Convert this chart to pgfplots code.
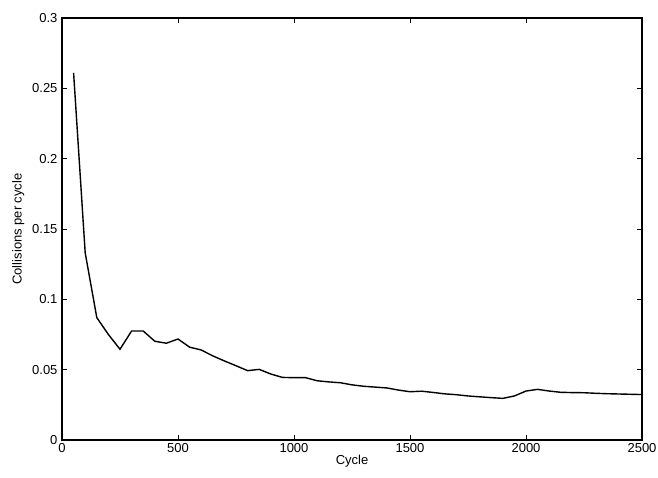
\documentclass[border=0pt]{standalone}
\usepackage{fontspec}
\setmainfont{Liberation Sans}
\usepackage{pgfplots}
\pgfplotsset{compat=1.18}
\begin{document}
\begin{tikzpicture}
\begin{axis}[
  scale only axis,
  width=580pt, height=422pt,
  xmin=0, xmax=2500, ymin=0, ymax=0.3,
  xtick={0,500,1000,1500,2000,2500},
  ytick={0,0.05,0.1,0.15,0.2,0.25,0.3},
  yticklabels={0,0.05,0.1,0.15,0.2,0.25,0.3},
  xticklabels={0,500,1000,1500,2000,2500},
  tick align=inside,
  major tick length=5pt,
  axis line style={line width=1.1pt},
  every tick/.style={line width=0.9pt, black},
  tick label style={font=\fontsize{13}{15}\selectfont},
  label style={font=\fontsize{13}{15}\selectfont},
  xlabel={Cycle},
  ylabel={Collisions per cycle},
  xlabel style={yshift=5pt},
  ylabel style={yshift=1pt},
  yticklabel style={xshift=-1pt},
  scaled ticks=false,
]
\addplot[black, line width=1.4pt] coordinates {
(50,0.261) (100,0.133) (150,0.087) (200,0.075) (250,0.0645) (300,0.0775) (350,0.0775)
(400,0.0702) (450,0.0688) (500,0.0718) (550,0.066) (600,0.064) (650,0.0598)
(700,0.0562) (750,0.0528) (800,0.0493) (850,0.0502) (900,0.0469) (950,0.0445)
(1000,0.0443) (1050,0.0443) (1100,0.0421) (1150,0.0413) (1200,0.0407) (1250,0.0392)
(1300,0.0382) (1350,0.0376) (1400,0.0370) (1450,0.0355) (1500,0.0343) (1550,0.0347)
(1600,0.0338) (1650,0.0328) (1700,0.0322) (1750,0.0313) (1800,0.0307) (1850,0.0301)
(1900,0.0296) (1950,0.0313) (2000,0.0348) (2050,0.036) (2100,0.0348) (2150,0.0339)
(2200,0.0337) (2250,0.0336) (2300,0.0332) (2350,0.0329) (2400,0.0327) (2450,0.0325) (2500,0.0323)
};
\end{axis}
\pgfresetboundingbox
\path (-62pt,-38pt) rectangle (596pt,440pt);
\end{tikzpicture}
\end{document}
